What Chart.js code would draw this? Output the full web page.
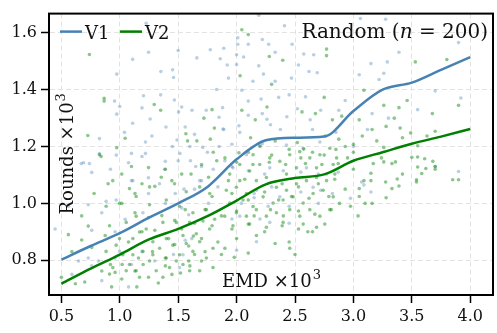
<!DOCTYPE html>
<html>
<head>
<meta charset="utf-8">
<script src="https://cdn.jsdelivr.net/npm/chart.js@4/dist/chart.umd.min.js"></script>
<style>
  html, body { margin: 0; padding: 0; background: #fff; }
  canvas { display: block; }
</style>
</head>
<body>
<canvas id="chart" width="497" height="333"></canvas>
<script>
// Smoothed curves
const curveX = [0.5, 0.75, 1.0, 1.25, 1.5, 1.75, 2.0, 2.25, 2.5, 2.75, 3.0, 3.25, 3.5, 3.75, 4.0];
const v1Curve = [0.802, 0.85, 0.895, 0.95, 1.0, 1.058, 1.155, 1.222, 1.231, 1.235, 1.325, 1.40, 1.425, 1.47, 1.515];
const v2Curve = [0.717, 0.77, 0.82, 0.873, 0.91, 0.955, 1.01, 1.067, 1.089, 1.102, 1.15, 1.18, 1.21, 1.235, 1.262];

// Scatter samples [EMD, Rounds] (x10^3)
const v1Points = [
  [1.226,1.634],[1.246,1.532],[1.11,1.507],[0.974,1.455],[1.352,1.464],[1.452,1.47],[1.46,1.443],[1.5,1.538],[1.66,1.512],
  [0.955,1.36],[1.0,1.341],[1.203,1.379],[1.19,1.336],[1.35,1.382],[1.467,1.364],[1.53,1.339],[1.618,1.328],[1.503,1.322],
  [0.974,1.314],[1.11,1.282],[1.26,1.297],[1.395,1.269],[1.56,1.269],[1.04,1.25],[0.826,1.228],[1.275,1.237],[1.22,1.216],
  [1.49,1.223],[1.64,1.243],[1.515,1.176],[0.826,1.175],[1.1,1.176],[1.22,1.176],[0.67,1.14],[0.74,1.14],
  [2.41,1.625],[2.19,1.662],[2.01,1.583],[2.01,1.56],[2.1,1.56],[2.22,1.577],[2.275,1.56],[1.89,1.546],[1.775,1.541],
  [2.0,1.523],[1.86,1.509],[2.06,1.515],[2.33,1.532],[2.475,1.56],[2.575,1.526],[2.66,1.523],[1.92,1.487],[2.0,1.489],
  [2.19,1.484],[2.53,1.487],[2.69,1.46],[2.62,1.464],[1.93,1.441],[2.14,1.43],[2.23,1.455],[2.33,1.43],[2.47,1.441],
  [2.045,1.398],[1.83,1.401],[2.1,1.36],[2.21,1.367],[2.36,1.373],[2.59,1.375],[2.45,1.382],[1.74,1.328],[1.88,1.337],
  [1.85,1.303],[2.1,1.31],[2.22,1.316],[2.26,1.296],[2.43,1.305],[2.52,1.333],[2.63,1.294],[2.72,1.328],[2.875,1.328],
  [2.93,1.362],[1.89,1.26],[2.02,1.273],[2.29,1.277],[2.375,1.26],[2.65,1.26],[2.85,1.25],[1.71,1.197],[1.96,1.208],[2.22,1.21],
  [3.06,1.651],[3.276,1.648],[3.9,1.566],[3.39,1.532],[3.15,1.492],[3.29,1.498],[3.26,1.458],[3.05,1.453],[3.22,1.436],
  [3.7,1.396],[3.92,1.371],[3.16,1.316],[3.0,1.2],[3.12,1.26],[3.3,1.3],[3.55,1.33],
  [3.9,1.112],[3.7,1.13],[3.07,1.075],[3.09,1.065],[3.15,1.04],[2.975,1.018],
  [0.69,1.143],[0.76,1.109],[0.92,1.12],[1.075,1.143],[0.97,1.17],[1.19,1.165],[1.39,1.148],[1.385,1.12],[0.56,0.99],
  [0.73,0.995],[0.846,0.967],[1.046,0.944],[0.96,0.9],[1.246,1.035],[1.39,1.0],[1.53,0.984],[1.59,0.96],[0.646,0.797],
  [0.73,0.808],[0.817,0.797],[0.96,0.808],[1.1,0.785],[0.76,0.78],[1.19,0.83],[1.3,0.797],[1.46,0.82],[1.617,0.876],
  [0.446,0.91],[0.76,0.905],[1.56,0.87],[0.59,0.75],[0.846,0.728],[1.075,0.706],[1.475,1.035],[1.64,1.05],[1.1,1.08],
  [1.245,1.09],[1.605,1.15],
  [1.7,1.13],[1.96,1.13],[2.1,1.115],[2.24,1.103],[2.4,1.115],[2.55,1.11],[2.7,1.103],[2.87,1.11],[1.84,1.058],
  [2.15,1.035],[2.3,1.058],[2.55,1.04],[2.72,1.046],[2.82,1.035],[2.04,1.0],[2.27,0.99],[2.45,0.99],[2.7,1.0],
  [1.96,0.945],[2.2,0.945],[2.45,0.93],[2.17,0.865],[2.0,0.835],[2.15,1.02],[1.76,1.0],
  [1.55,1.05],[1.7,1.08],[1.8,1.12],[1.9,1.15],[1.65,1.13],[1.75,1.18],[1.85,1.2],[1.6,1.2],[1.5,1.15],[1.45,1.2],
  [1.112,1.08],[0.969,1.012],[0.883,1.007],[1.684,1.08],[1.34,1.069],[1.198,0.967],[1.541,0.819],[1.512,0.774],[0.998,0.831],
  [1.884,1.262],[2.027,1.25],[2.198,1.205],[2.427,1.205],[2.57,1.194],[2.713,1.216],[2.084,1.171],[1.969,1.125],
  [2.284,1.125],[2.598,1.125],[2.77,1.103],[2.169,1.046],[2.37,1.023],[2.655,1.057],[2.027,0.955],[2.284,0.933]
];
const v2Points = [
  [0.74,1.524],[0.866,1.37],[0.866,1.36],[1.295,1.348],[1.35,1.328],[0.726,1.239],[1.046,1.229],[0.974,1.196],
  [1.566,1.245],[1.58,1.22],[1.66,1.22],[0.826,1.171],
  [2.045,1.611],[2.1,1.594],[2.28,1.517],[2.395,1.504],[2.03,1.449],[2.3,1.419],[2.77,1.543],[2.77,1.52],[1.79,1.33],
  [1.72,1.3],[1.81,1.265],[2.045,1.328],[2.26,1.339],[2.16,1.294],[2.56,1.322],[2.675,1.316],[2.82,1.294],[2.75,1.373],
  [2.9,1.307],[1.775,1.226],[2.12,1.231],[2.33,1.22],[2.52,1.214],[2.575,1.191],[2.76,1.237],[2.875,1.226],[2.93,1.2],[2.02,1.178],
  [3.09,1.398],[3.53,1.498],[3.8,1.506],[3.26,1.345],[3.39,1.337],[3.46,1.362],[3.676,1.316],[3.9,1.345],[3.35,1.3],
  [3.05,1.294],[3.16,1.26],[3.28,1.271],[3.4,1.265],[3.49,1.248],[3.076,1.237],[3.2,1.22],[3.42,1.231],[3.55,1.203],
  [3.7,1.254],[3.63,1.237],[3.26,1.197],[3.0,1.208],[3.0,1.18],
  [3.0,1.12],[3.09,1.08],[3.15,1.106],[3.15,1.08],[3.05,1.052],[3.05,1.024],[3.1,1.0],[3.16,1.0],[3.04,0.956],[2.975,0.99],
  [3.276,1.075],[3.28,1.02],[3.33,1.052],[3.375,1.086],[3.39,1.061],[3.36,1.146],[3.26,1.146],[3.33,1.14],[3.42,1.103],
  [3.5,1.162],[3.55,1.163],[3.61,1.157],[3.55,1.128],[3.62,1.123],[3.585,1.105],[3.54,1.083],[3.54,1.075],[3.7,1.12],
  [3.7,1.13],[3.68,1.148],[3.85,1.083],[3.9,1.083],[3.17,1.14],[3.24,1.16],
  [0.5,0.74],[0.62,0.717],[0.7,0.723],[0.93,0.706],[1.146,0.706],[1.017,0.734],[1.246,0.74],[1.33,0.72],[0.846,0.762],
  [0.96,0.757],[1.13,0.762],[1.446,0.75],[1.52,0.755],[0.92,0.785],[1.02,0.785],[1.16,0.808],[1.28,0.83],[1.39,0.808],
  [1.59,0.797],[0.674,0.871],[0.76,0.845],[0.875,0.887],[1.075,0.864],[1.19,0.9],[1.3,0.905],[1.418,0.876],[1.47,0.855],
  [1.59,0.85],[1.63,0.885],[1.13,0.967],[1.246,0.95],[1.36,0.957],[1.47,0.94],[1.56,0.978],[1.017,1.0],[1.13,1.035],
  [1.19,1.069],[1.3,1.06],[1.446,1.08],[1.53,1.103],[1.61,1.103],[1.39,1.12],[1.246,1.126],[1.1,1.13],[1.017,1.103],
  [0.9,1.069],[0.78,1.035],[0.674,0.956],[0.56,0.89],[0.73,0.92],[1.53,0.91],[1.64,0.93],[1.64,0.82],[1.6,0.78],
  [1.39,0.78],[1.2,0.785],[0.59,0.83],[0.84,1.165],
  [1.7,1.137],[1.83,1.15],[2.0,1.145],[2.14,1.137],[2.28,1.145],[2.42,1.137],[2.59,1.14],[2.73,1.137],[2.87,1.14],
  [1.76,1.092],[1.93,1.08],[2.07,1.085],[2.39,1.069],[2.53,1.058],[2.7,1.069],[2.84,1.085],[2.93,1.05],[1.79,1.024],
  [1.96,1.035],[2.1,1.012],[2.24,1.04],[2.36,1.012],[2.47,1.024],[2.62,1.018],[2.79,1.024],[2.88,1.0],[1.73,0.978],
  [1.87,0.956],[2.0,0.973],[2.15,0.956],[2.29,0.978],[2.4,0.956],[2.53,0.973],[2.67,0.962],[2.81,0.978],[1.79,0.921],
  [1.96,0.91],[2.1,0.927],[2.24,0.9],[2.39,0.921],[2.53,0.91],[2.65,0.9],[1.7,0.876],[1.84,0.864],[2.0,0.876],
  [2.17,0.887],[2.33,0.859],[2.45,0.864],[1.73,0.83],[1.9,0.842],[2.1,0.825],[1.7,0.797],[1.87,0.82],[1.98,0.81],
  [2.1,1.18],[2.2,1.2],[2.3,1.17],[2.45,1.19],[2.55,1.16],[2.65,1.18],[2.75,1.17],[2.85,1.19],[2.95,1.16],[1.9,1.16],
  [1.8,1.18],[2.455,0.842],[2.61,0.9],[2.755,0.927],[2.5,0.82],
  [0.94,1.08],[1.083,1.052],[1.255,1.058],[1.355,1.092],[1.469,1.069],[1.569,1.041],[1.684,1.058],[1.77,1.035],
  [0.883,0.99],[0.998,1.0],[1.14,1.024],[1.255,0.995],[1.398,1.012],[1.512,0.99],[1.626,0.967],[1.741,0.978],[1.812,0.944],
  [0.912,0.921],[1.055,0.933],[1.14,0.955],[1.226,0.91],[1.369,0.933],[1.484,0.933],[1.598,0.933],[1.712,0.938],
  [0.969,0.853],[1.112,0.876],[1.169,0.899],[1.283,0.865],[1.398,0.876],[1.541,0.887],[1.655,0.893],[1.769,0.91],
  [0.883,0.831],[1.026,0.819],[1.198,0.831],[1.341,0.842],[1.455,0.853],[1.569,0.859],[1.684,0.865],[1.798,0.842],
  [0.94,0.774],[1.083,0.785],[1.255,0.797],[1.398,0.808],[1.512,0.819],[1.626,0.831],[1.741,0.808],
  [0.912,0.751],[1.055,0.763],[1.169,0.74],[1.312,0.763],[1.426,0.774],[1.541,0.785],[1.684,0.763],[1.798,0.774],
  [1.112,0.819],[1.283,0.819],[1.484,0.797],[1.598,0.763],[1.369,0.74],[0.998,0.876],[1.14,0.763],
  [1.941,1.103],[2.027,1.08],[2.112,1.114],[2.198,1.137],[2.284,1.16],[2.37,1.148],[2.455,1.171],[2.541,1.182],
  [2.627,1.16],[2.713,1.171],[2.798,1.194],[2.856,1.16],[1.912,1.046],[1.998,1.057],[2.084,1.035],[2.169,1.08],
  [2.255,1.091],[2.341,1.057],[2.427,1.046],[2.513,1.069],[2.598,1.08],[2.684,1.091],[2.77,1.08],[2.841,1.103],
  [1.941,1.001],[2.055,1.012],[2.141,0.989],[2.227,1.023],[2.312,1.001],[2.398,1.012],[2.484,1.023],[2.57,1.001],
  [2.655,1.035],[2.741,1.046],[2.827,1.023],[1.898,0.955],[1.998,0.967],[2.084,0.955],[2.169,0.978],[2.255,0.955],
  [2.341,0.967],[2.455,0.978],[2.541,0.955],[2.627,0.978],[2.713,0.955],[2.798,0.978],[1.969,0.921],[2.112,0.927],
  [2.255,0.916],[2.398,0.933],[2.57,0.927],[2.684,0.916],[2.027,1.137],[2.141,1.171],[2.513,1.125],[2.684,1.125],
  [2.827,1.137],[2.427,1.103]
];

const xTicks = [0.5, 1.0, 1.5, 2.0, 2.5, 3.0, 3.5, 4.0];
const yTicks = [0.8, 1.0, 1.2, 1.4, 1.6];
const seriesNames = ['V1', 'V2'];

const SERIF = "'DejaVu Serif', 'Liberation Serif', serif";
const BLUE = '#4682b4';
const GREEN = '#008000';

const toXY = pts => pts.map(p => ({ x: p[0], y: p[1] }));

// Frame, in-plot legend, title and axis labels
const overlay = {
    id: 'overlay',
    afterDraw(chart) {
        const { ctx, chartArea: a } = chart;
        ctx.save();

        ctx.strokeStyle = '#000';
        ctx.lineWidth = 2;
        ctx.strokeRect(a.left, a.top, a.right - a.left, a.bottom - a.top);

        // legend
        ctx.font = '18px ' + SERIF;
        ctx.fillStyle = '#111';
        ctx.textBaseline = 'alphabetic';
        ctx.textAlign = 'left';
        let lx = a.left + 11;
        [BLUE, GREEN].forEach((c, i) => {
            ctx.strokeStyle = c;
            ctx.lineWidth = 2.5;
            ctx.beginPath();
            ctx.moveTo(lx, a.top + 18);
            ctx.lineTo(lx + 22, a.top + 18);
            ctx.stroke();
            ctx.fillText(seriesNames[i], lx + 25, a.top + 25);
            lx += 60;
        });

        // title: Random (n = 200), right aligned
        const parts = [['Random (', '20px ' + SERIF], ['n', 'italic 20px ' + SERIF], [' = 200)', '20px ' + SERIF]];
        let total = 0;
        parts.forEach(p => { ctx.font = p[1]; total += ctx.measureText(p[0]).width; });
        let tx = a.right - 5 - total;
        parts.forEach(p => {
            ctx.font = p[1];
            ctx.fillText(p[0], tx, a.top + 24);
            tx += ctx.measureText(p[0]).width;
        });

        // label helper with superscript
        const drawSup = (base, sup, x, y) => {
            ctx.font = '18px ' + SERIF;
            const w1 = ctx.measureText(base).width;
            ctx.font = '13px ' + SERIF;
            const w2 = ctx.measureText(sup).width;
            const start = x - (w1 + w2) / 2;
            ctx.font = '18px ' + SERIF;
            ctx.fillText(base, start, y);
            ctx.font = '13px ' + SERIF;
            ctx.fillText(sup, start + w1 + 1, y - 8);
        };

        drawSup('EMD ×10', '3', (a.left + a.right) / 2, a.bottom - 8);

        ctx.translate(a.left + 24, (a.top + a.bottom) / 2);
        ctx.rotate(-Math.PI / 2);
        drawSup('Rounds ×10', '3', 0, 0);

        ctx.restore();
    }
};

const lineDataset = (label, ys, color) => ({
    type: 'line',
    label: label,
    data: curveX.map((x, i) => ({ x: x, y: ys[i] })),
    borderColor: color,
    borderWidth: 2.5,
    pointRadius: 0,
    fill: false,
    cubicInterpolationMode: 'monotone'
});

const scatterDataset = (label, pts, color) => ({
    type: 'scatter',
    label: label,
    data: toXY(pts),
    backgroundColor: color,
    borderWidth: 0,
    pointRadius: 1.8
});

const axisCommon = {
    type: 'linear',
    grid: {
        color: '#e3e3e3',
        lineWidth: 1,
        tickColor: '#000',
        tickLength: 8,
        tickWidth: 1.5,
        tickBorderDash: []
    },
    border: { display: true, color: '#000', width: 2, dash: [5, 3] },
    ticks: {
        color: '#111',
        font: { family: SERIF, size: 16 },
        padding: 4,
        callback: v => Number(v).toFixed(1)
    }
};

new Chart(document.getElementById('chart').getContext('2d'), {
    data: {
        datasets: [
            lineDataset('V1', v1Curve, BLUE),
            lineDataset('V2', v2Curve, GREEN),
            scatterDataset('V2 runs', v2Points, 'rgba(0, 128, 0, 0.45)'),
            scatterDataset('V1 runs', v1Points, 'rgba(70, 130, 180, 0.38)')
        ]
    },
    options: {
        responsive: false,
        animation: false,
        devicePixelRatio: 1,
        layout: { padding: { top: 4, right: 4, left: 0, bottom: 0 } },
        plugins: { legend: { display: false }, tooltip: { enabled: false } },
        scales: {
            x: Object.assign({}, axisCommon, {
                min: 0.394,
                max: 4.195,
                afterBuildTicks: s => { s.ticks = xTicks.map(v => ({ value: v })); },
                afterFit: s => { s.height = 38; }
            }),
            y: Object.assign({}, axisCommon, {
                min: 0.6775,
                max: 1.668,
                afterBuildTicks: s => { s.ticks = yTicks.map(v => ({ value: v })); },
                afterFit: s => { s.width = 49; }
            })
        }
    },
    plugins: [overlay]
});
</script>
</body>
</html>
